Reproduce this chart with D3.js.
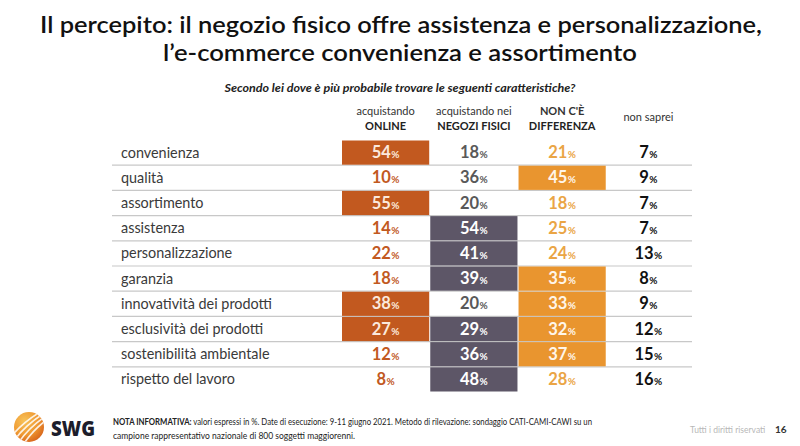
<!DOCTYPE html>
<html><head><meta charset="utf-8">
<script src="https://cdn.jsdelivr.net/npm/d3@7/dist/d3.min.js"></script>
<style>
body{margin:0;background:#fff;}
svg{display:block;}
text{font-family:Lato,"Open Sans",sans-serif;}
</style></head>
<body>
<svg id="chart" width="800" height="446"></svg>
<script>
const categories = ["convenienza","qualità","assortimento","assistenza","personalizzazione","garanzia","innovatività dei prodotti","esclusività dei prodotti","sostenibilità ambientale","rispetto del lavoro"];
const seriesKeys = ["online","negozi","diff","nonsaprei"];
const online    = [54,10,55,14,22,18,38,27,12,8];
const negozi    = [18,36,20,54,41,39,20,29,36,48];
const diff      = [21,45,18,25,24,35,33,32,37,28];
const nonsaprei = [7,9,7,7,13,8,9,12,15,16];
// categories shown with a filled cell in each column
const hlOnline = ["convenienza","assortimento","innovatività dei prodotti","esclusività dei prodotti"];
const hlNegozi = ["assistenza","personalizzazione","garanzia","esclusività dei prodotti","sostenibilità ambientale","rispetto del lavoro"];
const hlDiff   = ["qualità","garanzia","innovatività dei prodotti","esclusività dei prodotti","sostenibilità ambientale"];
const hlNonSaprei = [];
const headerLine1 = ["acquistando","acquistando nei","NON C'È",""];
const headerLine2 = ["ONLINE","NEGOZI FISICI","DIFFERENZA",""];
const headerSingle = ["","","","non saprei"];

const values = {online, negozi, diff, nonsaprei};
const highlights = {online:hlOnline, negozi:hlNegozi, diff:hlDiff, nonsaprei:hlNonSaprei};
const fillCol = {online:"#c2591f", negozi:"#5d5667", diff:"#e9952f", nonsaprei:"none"};
const textCol = {online:"#c2591f", negozi:"#595959", diff:"#eaa545", nonsaprei:"#111"};
const textHl  = {online:"#fbe9dd", negozi:"#ffffff", diff:"#fff6ea", nonsaprei:"#111"};

const svg = d3.select("#chart");

// Title
const title = svg.append("g").attr("text-anchor","middle").attr("fill","#111")
  .style("font-family","'Open Sans',sans-serif").style("font-weight","600");
title.append("text").attr("x",401).attr("y",33).attr("font-size",23.5).attr("textLength",722).attr("lengthAdjust","spacingAndGlyphs")
  .text("Il percepito: il negozio fisico offre assistenza e personalizzazione,");
title.append("text").attr("x",400).attr("y",61).attr("font-size",23.5).attr("textLength",474).attr("lengthAdjust","spacingAndGlyphs")
  .text("l’e-commerce convenienza e assortimento");

svg.append("text").attr("x",400).attr("y",92).attr("text-anchor","middle")
  .attr("font-size",11).attr("font-style","italic").attr("font-weight","700").attr("fill","#222")
  .attr("textLength",351).attr("lengthAdjust","spacingAndGlyphs")
  .text("Secondo lei dove è più probabile trovare le seguenti caratteristiche?");

const y = d3.scaleBand().domain(categories).range([140,392]).padding(0);
const x = d3.scaleBand().domain(seriesKeys).range([342,694]).paddingInner(0.012).paddingOuter(0);

// headers
const hdr = svg.append("g").attr("text-anchor","middle").attr("fill","#333").attr("font-size",11);
seriesKeys.forEach((k,i)=>{
  const cx = x(k)+x.bandwidth()/2;
  if(headerLine1[i]) hdr.append("text").attr("x",cx).attr("y",115)
     .attr("font-weight", i===2?"700":"400").text(headerLine1[i]);
  if(headerLine2[i]) hdr.append("text").attr("x",cx).attr("y",130).attr("font-weight","700").attr("fill","#222").text(headerLine2[i]);
  if(headerSingle[i]) hdr.append("text").attr("x",cx-2).attr("y",121).text(headerSingle[i]);
});

// row separators
svg.append("g").selectAll("line").data(categories.slice(0,-1)).join("line")
  .attr("x1",112).attr("x2",692)
  .attr("y1",d=>y(d)+y.bandwidth()).attr("y2",d=>y(d)+y.bandwidth())
  .attr("stroke","#c8c8c8").attr("stroke-width",1.2);

// cells
seriesKeys.forEach(k=>{
  const g = svg.append("g");
  const data = categories.map((c,i)=>({c, v:values[k][i], hl:highlights[k].includes(c)}));
  g.selectAll("rect").data(data.filter(d=>d.hl)).join("rect")
    .attr("x",x(k)).attr("width",x.bandwidth())
    .attr("y",d=>y(d.c)+0.5).attr("height",y.bandwidth()-1)
    .attr("fill",fillCol[k]);
  const t = g.selectAll("text").data(data).join("text")
    .attr("x",x(k)+x.bandwidth()/2 + (k==="nonsaprei"?-2:0)).attr("y",d=>y(d.c)+y.bandwidth()/2+5.5)
    .attr("text-anchor","middle")
    .attr("fill",d=>d.hl?textHl[k]:textCol[k]);
  t.append("tspan").attr("font-size",16.5).attr("font-weight","700").text(d=>d.v);
  t.append("tspan").attr("font-size",10).attr("font-weight","700").attr("dx",0.5).text("%");
});

// row labels
svg.append("g").selectAll("text").data(categories).join("text")
  .attr("x",121).attr("y",d=>y(d)+y.bandwidth()/2+5)
  .attr("font-size",14.4).attr("fill","#3a3a3a").text(d=>d);

// footer logo
const defs = svg.append("defs");
const rg = defs.append("radialGradient").attr("id","lg").attr("cx","35%").attr("cy","30%").attr("r","75%");
rg.append("stop").attr("offset","0%").attr("stop-color","#f7c35a");
rg.append("stop").attr("offset","60%").attr("stop-color","#ef9830");
rg.append("stop").attr("offset","100%").attr("stop-color","#d8661c");
defs.append("clipPath").attr("id","lc").append("circle").attr("cx",29).attr("cy",427).attr("r",15);
svg.append("circle").attr("cx",29).attr("cy",427).attr("r",15).attr("fill","url(#lg)");
const stripes = svg.append("g").attr("clip-path","url(#lc)");
[-8,-2,4,10].forEach(o=>{
  stripes.append("path").attr("d",`M${10+o},${450} Q${22+o},${428} ${48+o},${412}`)
    .attr("fill","none").attr("stroke","#fff").attr("stroke-width",1.6).attr("opacity",0.85);
});
svg.append("text").attr("x",51).attr("y",436).attr("font-size",21).attr("font-weight","900")
  .attr("fill","#1d1d2b").style("font-family","'Open Sans',sans-serif").attr("textLength",44).attr("lengthAdjust","spacingAndGlyphs").text("SWG");

const note = svg.append("g").attr("font-size",8.6).attr("fill","#222");
const n1 = note.append("text").attr("x",113).attr("y",425).attr("textLength",479).attr("lengthAdjust","spacingAndGlyphs");
n1.append("tspan").attr("font-weight","700").text("NOTA INFORMATIVA:");
n1.append("tspan").text(" valori espressi in %. Date di esecuzione: 9-11 giugno 2021. Metodo di rilevazione: sondaggio CATI-CAMI-CAWI su un");
note.append("text").attr("x",113).attr("y",439).attr("textLength",242).attr("lengthAdjust","spacingAndGlyphs")
  .text("campione rappresentativo nazionale di 800 soggetti maggiorenni.");

svg.append("text").attr("x",690).attr("y",433).attr("font-size",8.5).attr("fill","#b8b8b8").text("Tutti i diritti riservati");
svg.append("text").attr("x",775).attr("y",433).attr("font-size",10).attr("font-weight","700").attr("fill","#333").text("16");
</script>
</body></html>
